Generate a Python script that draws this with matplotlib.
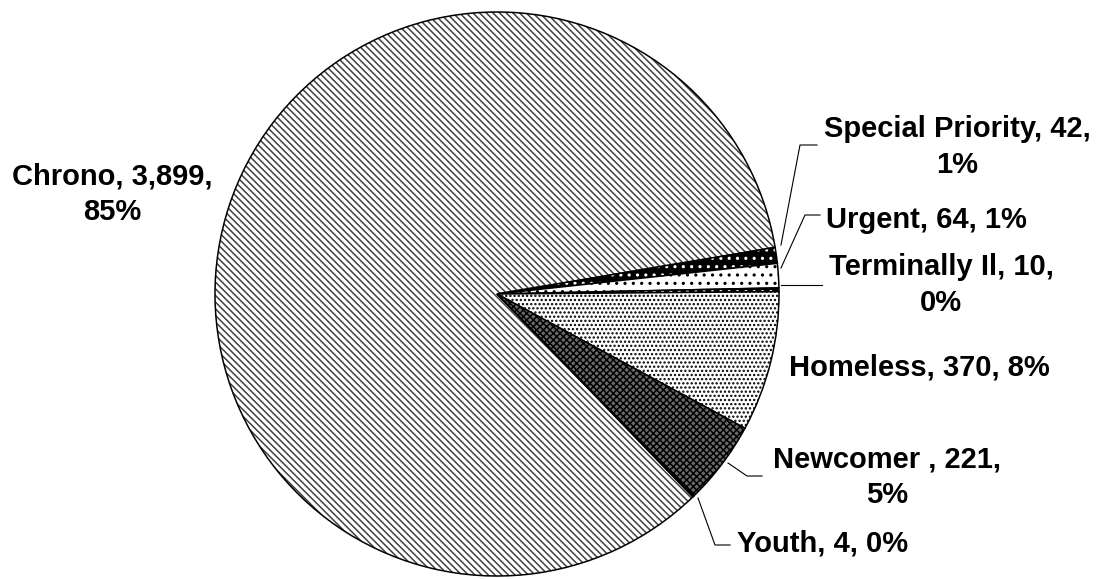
import numpy as np
import matplotlib
matplotlib.use('Agg')
import matplotlib.pyplot as plt

plt.rcParams['font.family'] = ['Liberation Sans', 'DejaVu Sans']
plt.rcParams['hatch.linewidth'] = 1.1

# data
categories = ['Chrono', 'Special Priority', 'Urgent', 'Terminally Il', 'Homeless', 'Newcomer ', 'Youth']
values = [3899, 42, 64, 10, 370, 221, 4]
percents = ['85%', '1%', '1%', '0%', '8%', '5%', '0%']

# styles
faces = ['white', 'black', 'white', 'black', 'white', '#6a6a6a', 'white']
hatches = ['\\\\\\\\\\', '..', '..', '..', '....', 'xxxxx', '||||']
hatch_cols = ['#404040', 'white', 'black', 'white', 'black', 'black', 'black']

# label layout in pixel coords (x center, y center)
label_pos = [(112, 194), (957, 147), (926, 220), (941, 285), (919, 367), (887, 477), (823, 544)]
label_break = [True, True, False, True, False, True, False]
# leader lines (pixel coords)
leaders = [None,
           [(781, 245), (800, 145), (817, 145)],
           [(781, 268), (805, 215), (820, 215)],
           [(781, 285), (822, 285)],
           None,
           [(728, 463), (747, 476), (762, 476)],
           [(698, 498), (715, 545), (730, 545)]]

W, H = 1105, 579
fig = plt.figure(figsize=(W / 100, H / 100), dpi=100)
ax = fig.add_axes([0, 0, 1, 1])

wedges, _ = ax.pie(values, startangle=-46, counterclock=False,
                   center=(497, H - 294), radius=282,
                   colors=faces,
                   wedgeprops=dict(edgecolor='black', linewidth=1.1))
for w, h, hc in zip(wedges, hatches, hatch_cols):
    w.set_hatch(h)
    w._hatch_color = matplotlib.colors.to_rgba(hc)

for i, cat in enumerate(categories):
    sep = '\n' if label_break[i] else ' '
    txt = f'{cat}, {values[i]:,},{sep}{percents[i]}'
    x, y = label_pos[i]
    ax.text(x, H - y, txt, ha='center', va='center', fontsize=21,
            fontweight='bold', linespacing=1.32)
    if leaders[i] is not None:
        xs = [p[0] for p in leaders[i]]
        ys = [H - p[1] for p in leaders[i]]
        ax.plot(xs, ys, color='black', lw=0.8)

ax.set_xlim(0, W)
ax.set_ylim(0, H)
ax.set_aspect('equal')
ax.axis('off')

fig.savefig('out.png', dpi=100)
